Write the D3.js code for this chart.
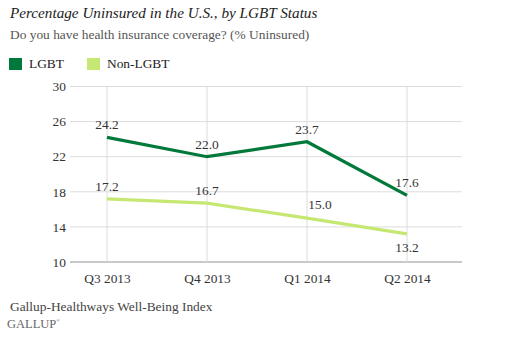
<!DOCTYPE html>
<html>
<head>
<meta charset="utf-8">
<script src="https://cdn.jsdelivr.net/npm/d3@7"></script>
<style>
  body { margin: 0; background: #fff; }
  svg { display: block; font-family: "Liberation Serif", "DejaVu Serif", serif; }
</style>
</head>
<body>
<svg id="chart" width="514" height="354"></svg>
<script>
const quarters = ['Q3 2013', 'Q4 2013', 'Q1 2014', 'Q2 2014'];
const lgbt = [24.2, 22.0, 23.7, 17.6];
const nonLgbt = [17.2, 16.7, 15.0, 13.2];
const yTicks = [10, 14, 18, 22, 26, 30];
const seriesNames = ['LGBT', 'Non-LGBT'];

const colors = ['#00793a', '#c6e872'];
// where each value label sits relative to its point
const labelPlace = [
  ['above', 'above', 'above', 'above'],
  ['above', 'above', 'right', 'below']
];

const svg = d3.select('#chart');
const plot = { left: 70, right: 462, top: 86.5, bottom: 262 };

const x = d3.scalePoint().domain(quarters).range([107, 407]);
const y = d3.scaleLinear().domain([10, 30]).range([plot.bottom, plot.top]);

// title block
svg.append('text').attr('x', 10).attr('y', 18)
  .attr('font-size', 15.2).attr('font-style', 'italic').attr('fill', '#222')
  .text('Percentage Uninsured in the U.S., by LGBT Status');
svg.append('text').attr('x', 10).attr('y', 39)
  .attr('font-size', 13.4).attr('fill', '#555')
  .text('Do you have health insurance coverage? (% Uninsured)');

// legend
const leg = svg.append('g');
const legX = [9, 87];
seriesNames.forEach((name, i) => {
  leg.append('rect').attr('x', legX[i]).attr('y', 58).attr('width', 13).attr('height', 12).attr('fill', colors[i]);
  leg.append('text').attr('x', legX[i] + 20).attr('y', 67.5)
    .attr('font-size', 13.4).attr('fill', '#222').text(name);
});

// horizontal grid
svg.append('g').selectAll('line').data(yTicks).enter().append('line')
  .attr('x1', plot.left).attr('x2', plot.right)
  .attr('y1', d => y(d)).attr('y2', d => y(d))
  .attr('stroke', d => d === 10 ? '#c8c8c8' : '#dcdcdc')
  .attr('stroke-width', d => d === 10 ? 2 : 1);

// vertical grid
svg.append('g').selectAll('line').data(quarters).enter().append('line')
  .attr('x1', d => x(d)).attr('x2', d => x(d))
  .attr('y1', plot.top).attr('y2', plot.bottom)
  .attr('stroke', '#dcdcdc').attr('stroke-width', 1);

// y axis labels
const yAxis = svg.append('g').attr('transform', `translate(${plot.left},0)`)
  .call(d3.axisLeft(y).tickValues(yTicks).tickSize(0).tickPadding(4));
yAxis.attr('font-family', null).attr('font-size', null);
yAxis.select('.domain').remove();
yAxis.selectAll('text').attr('font-size', 13.4).attr('fill', '#333');

// x axis labels
const xAxis = svg.append('g').attr('transform', `translate(0,${plot.bottom})`)
  .call(d3.axisBottom(x).tickSize(0).tickPadding(11));
xAxis.attr('font-family', null).attr('font-size', null);
xAxis.select('.domain').remove();
xAxis.selectAll('text').attr('font-size', 13.4).attr('fill', '#333');

// lines
const line = d3.line().x((d, i) => x(quarters[i])).y(d => y(d));
[lgbt, nonLgbt].forEach((vals, s) => {
  svg.append('path').datum(vals)
    .attr('d', line)
    .attr('fill', 'none')
    .attr('stroke', colors[s])
    .attr('stroke-width', 3.2)
    .attr('stroke-linejoin', 'miter');
});

// value labels
[lgbt, nonLgbt].forEach((vals, s) => {
  svg.append('g').selectAll('text').data(vals).enter().append('text')
    .attr('x', (d, i) => x(quarters[i]) + (labelPlace[s][i] === 'right' ? 13 : 0))
    .attr('y', (d, i) => {
      const p = labelPlace[s][i];
      if (p === 'below') return y(d) + 18;
      if (p === 'right') return y(d) - 9;
      return y(d) - 8;
    })
    .attr('text-anchor', 'middle')
    .attr('font-size', 13.4).attr('fill', '#333')
    .text(d => d.toFixed(1));
});

// source
svg.append('text').attr('x', 10).attr('y', 311)
  .attr('font-size', 13.4).attr('fill', '#444')
  .text('Gallup-Healthways Well-Being Index');
const brand = svg.append('text').attr('x', 7).attr('y', 328)
  .attr('font-size', 12.5).attr('fill', '#666');
brand.append('tspan').text('GALLUP');
brand.append('tspan').attr('font-size', 5).attr('dy', -6).text('®');
</script>
</body>
</html>
